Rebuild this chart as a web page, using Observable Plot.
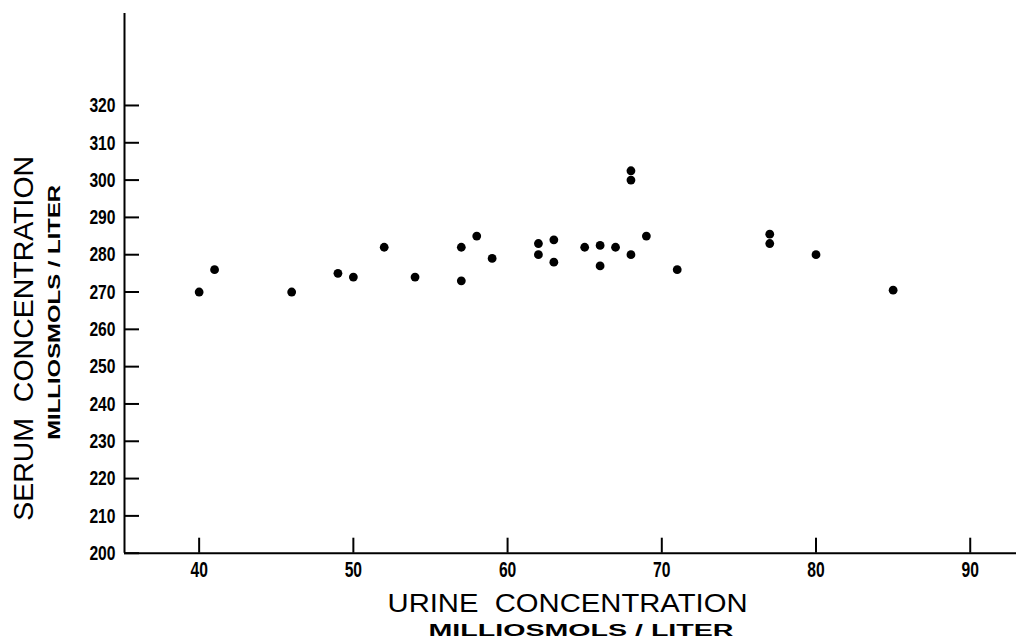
<!DOCTYPE html>
<html><head><meta charset="utf-8">
<script src="https://cdn.jsdelivr.net/npm/d3@7"></script>
<script src="https://cdn.jsdelivr.net/npm/@observablehq/plot@0.6"></script>
<style>body{margin:0;background:#fff}</style>
</head><body><div id="chart"></div>
<script>
// Urine concentration (mOsm/L) and serum concentration (mOsm/L)
const urine = [40, 41, 46, 49, 50, 52, 54, 57, 57, 58, 59, 62, 62, 63, 63, 65, 66, 66, 67, 68, 68, 68, 69, 71, 77, 77, 80, 85];
const serum = [270, 276, 270, 275, 274, 282, 274, 282, 273, 285, 279, 283, 280, 284, 278, 282, 282.5, 277, 282, 302.5, 300, 280, 285, 276, 285.5, 283, 280, 270.5];
const xTicks = [40, 50, 60, 70, 80, 90];
const yTicks = [200, 210, 220, 230, 240, 250, 260, 270, 280, 290, 300, 310, 320];
const xTitle = "URINE  CONCENTRATION";
const yTitle = "SERUM  CONCENTRATION";
const unitLabel = "MILLIOSMOLS / LITER";
const xDomain = [35.16, 93.0];
const yDomain = [200, 344.65];

const data = urine.map((u, i) => ({urine: u, serum: serum[i]}));
const tickFont = "'Liberation Sans Narrow', 'Liberation Sans', Arial, sans-serif";
const titleFont = "'Liberation Sans', Arial, sans-serif";

const plot = Plot.plot({
  width: 1016,
  height: 641,
  marginLeft: 124,
  marginRight: 0,
  marginTop: 13,
  marginBottom: 88.3,
  x: {domain: xDomain},
  y: {domain: yDomain},
  style: {background: "white", color: "black", fontFamily: titleFont, overflow: "visible"},
  marks: [
    // axis lines
    Plot.ruleX([xDomain[0]], {stroke: "black", strokeWidth: 2}),
    Plot.ruleY([yDomain[0]], {stroke: "black", strokeWidth: 2}),
    // inward ticks
    Plot.axisX({ticks: xTicks, tickSize: 15, dy: -15, tickFormat: () => "", label: null, strokeWidth: 2, stroke: "black"}),
    Plot.axisY({ticks: yTicks, tickSize: 15, dx: 15, tickFormat: () => "", label: null, strokeWidth: 2, stroke: "black"}),
    // tick labels
    Plot.axisX({ticks: xTicks, tickSize: 0, tickPadding: 8, label: null, fontSize: 22, fontWeight: "bold", fontFamily: tickFont, tickFormat: d => String(d), ariaLabel: "x-axis tick label"}),
    Plot.axisY({ticks: yTicks, tickSize: 0, tickPadding: 9, label: null, fontSize: 21, fontWeight: "bold", fontFamily: tickFont, tickFormat: d => String(d), ariaLabel: "y-axis tick label"}),
    // points
    Plot.dot(data, {x: "urine", y: "serum", r: 4.4, fill: "black", stroke: "none"}),
    // titles
    Plot.text([xTitle], {text: d => d, frameAnchor: "bottom", textAnchor: "middle", lineAnchor: "middle", dx: -3, dy: 50, fontSize: 26, fontFamily: titleFont}),
    Plot.text([unitLabel], {text: d => d, frameAnchor: "bottom", textAnchor: "middle", lineAnchor: "middle", dx: 10.5, dy: 78, fontSize: 16, fontWeight: "bold", fontFamily: titleFont}),
    Plot.text([yTitle], {text: d => d, frameAnchor: "left", textAnchor: "middle", lineAnchor: "middle", dx: -100, dy: 55, rotate: -90, fontSize: 27, fontFamily: titleFont}),
    Plot.text([unitLabel], {text: d => d, frameAnchor: "left", textAnchor: "middle", lineAnchor: "middle", dx: -70, dy: 29, rotate: -90, fontSize: 16.5, fontWeight: "bold", fontFamily: titleFont})
  ]
});

// stretch / condense lettering to the reference widths
const svg = d3.select(plot);
svg.selectAll("text").each(function() {
  const t = this.textContent;
  const rotated = (this.getAttribute("transform") || "").includes("rotate");
  let L = null;
  if (t === xTitle) L = 360;
  else if (t === yTitle) L = 365;
  else if (t === unitLabel) L = rotated ? 255 : 305;
  else if (/^\d+$/.test(t)) {
    L = t.length * 8.7;
    d3.select(this).style("font-size", t.length === 2 ? "22px" : "21px").style("font-weight", "bold");
  }
  if (L) d3.select(this).attr("textLength", L).attr("lengthAdjust", "spacingAndGlyphs").style("white-space", "pre");
});
document.getElementById("chart").appendChild(plot);
</script>
</body></html>
